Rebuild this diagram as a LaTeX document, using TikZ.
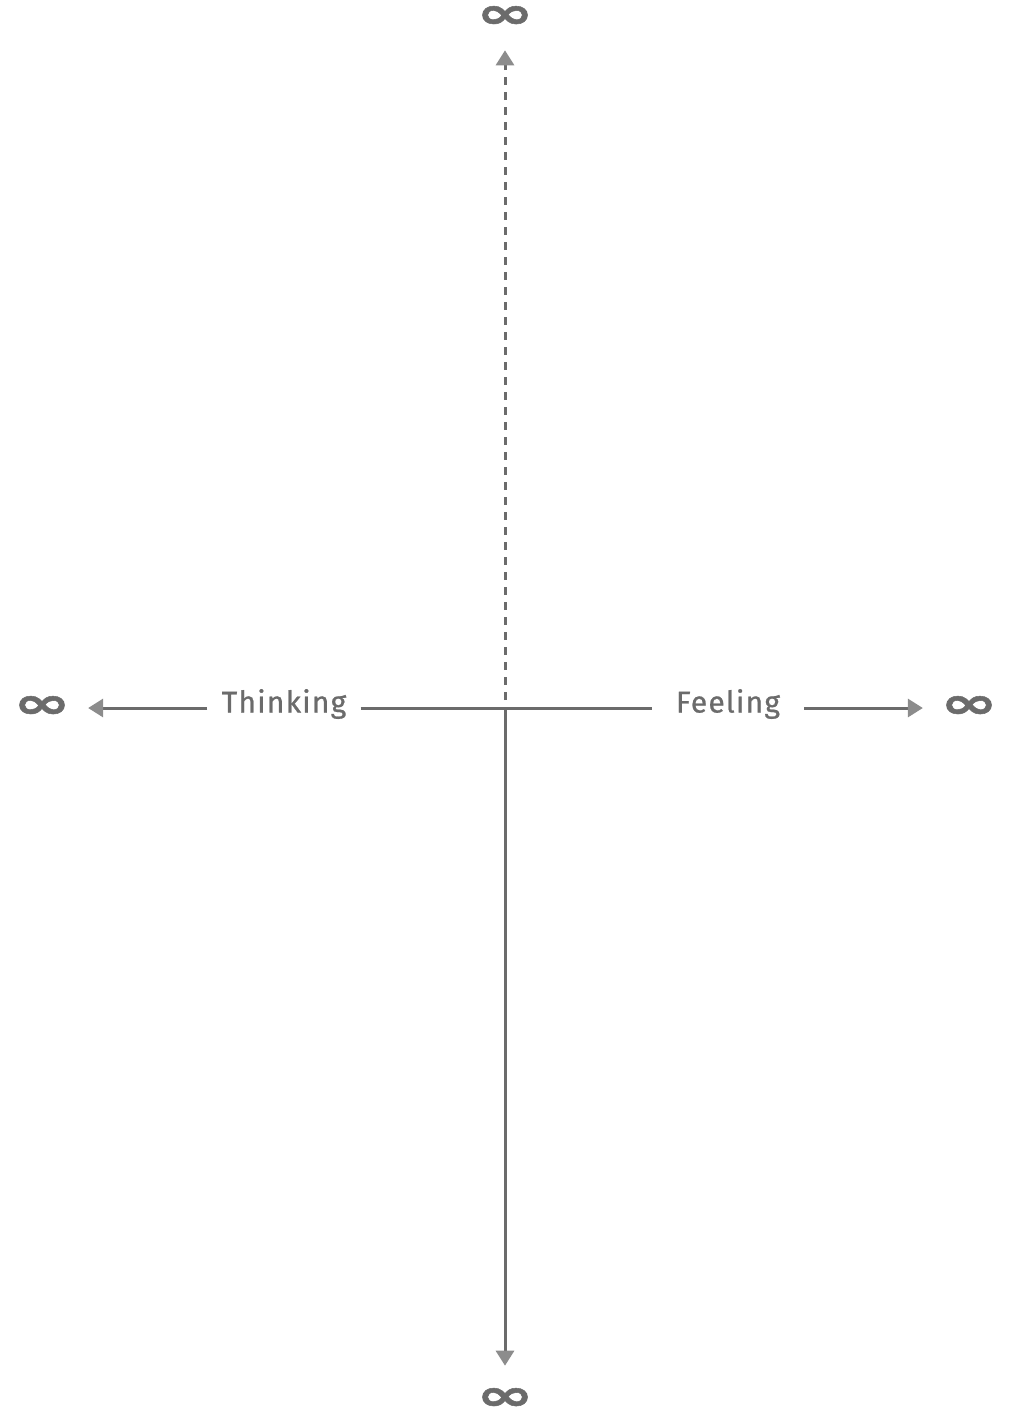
\documentclass[tikz,border=0pt]{standalone}
\usepackage{graphicx}
\usepackage{fontspec}
\setmainfont[FakeBold=0.8]{Fira Sans}
\newfontfamily\inffont[FakeBold=1.2]{DejaVu Sans Bold}
\usepackage{xcolor}
\usetikzlibrary{arrows.meta,calc}
\definecolor{axisgray}{HTML}{6B6B6B}
\definecolor{tipgray}{HTML}{8C8C8C}
\newcommand{\infsign}{\scalebox{1.15}[0.72]{∞}}
\tikzset{
  axis/.style = {draw=axisgray, line width=1.5pt},
  toinf/.style = {axis, -{Triangle[length=7.5pt,width=9pt,color=tipgray]}, shorten >=11pt},
  inf/.style = {inner sep=0pt, text=axisgray, font=\inffont\fontsize{30}{30}\selectfont},
  word/.style = {inner ysep=0pt, text=axisgray, font=\fontsize{15}{15}\selectfont\addfontfeature{LetterSpace=4}}
}

\begin{document}
\begin{tikzpicture}[x=0.5pt,y=-0.5pt]
  \useasboundingbox (0,0) rectangle (1009,1410);

  \coordinate (o) at (505,708);
  \coordinate (otop) at (505,700);

  \node[word, inner xsep=7pt] (think) at (284,704) {Thinking};
  \node[word, inner xsep=12pt] (feel) at (728,704) {Feeling};

  \node[inf] (infL) at (42,707) {\infsign};
  \node[inf] (infR) at (969,707) {\infsign};
  \node[inf] (infT) at (505,17) {\infsign};
  \node[inf] (infB) at (505,1399) {\infsign};

  \draw[axis] (think.east |- o) -- (feel.west |- o);
  \draw[toinf, shorten >=8.5pt] (think.west |- o) -- (infL.east |- o);
  \draw[toinf, shorten >=8.5pt] (feel.east |- o) -- (infR.west |- o);
  \draw[toinf, dash pattern=on 4pt off 3.5pt] (otop) -- (infT.south);
  \draw[toinf] (o) -- (infB.north);

\end{tikzpicture}
\end{document}
